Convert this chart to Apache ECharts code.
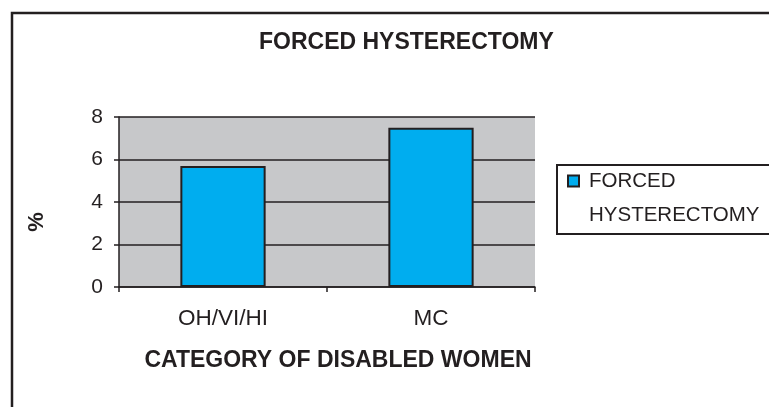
<!DOCTYPE html>
<html>
<head>
<meta charset="utf-8">
<script src="https://cdn.jsdelivr.net/npm/echarts@6/dist/echarts.min.js"></script>
<style>
  html, body { margin: 0; padding: 0; background: #fff; }
  #main { width: 769px; height: 407px; }
</style>
</head>
<body>
<div id="main"></div>
<script>
// data
var categories = ["OH/VI/HI", "MC"];
var values = [5.7, 7.5];
var seriesName = "FORCED HYSTERECTOMY";

var chart = echarts.init(document.getElementById("main"));
var font = "Liberation Sans, Arial, sans-serif";

var option = {
  animation: false,
  textStyle: { fontFamily: font },
  title: {
    text: "FORCED HYSTERECTOMY",
    left: 254,
    top: 26,
    textStyle: { fontFamily: font, fontSize: 23, fontWeight: "bold", color: "#231f20" }
  },
  legend: {
    data: [seriesName],
    left: 567,
    top: 130,
    padding: 0,
    icon: "rect",
    itemWidth: 11,
    itemHeight: 11,
    // empty first line keeps the icon beside "FORCED"
    formatter: function () { return " \nFORCED\nHYSTERECTOMY"; },
    textStyle: {
      fontFamily: font, fontSize: 20.5, color: "#231f20",
      lineHeight: 34, padding: [0, 0, 0, 5]
    }
  },
  grid: {
    left: 119, right: 234, top: 117, bottom: 120,
    show: true, backgroundColor: "#c7c8ca", borderWidth: 0
  },
  xAxis: {
    type: "category",
    data: categories,
    name: "CATEGORY OF DISABLED WOMEN",
    nameLocation: "middle",
    nameGap: 62,
    nameTextStyle: { fontFamily: font, fontSize: 23, fontWeight: "bold", color: "#231f20", padding: [0, 0, 0, 22] },
    axisLine: { lineStyle: { color: "#231f20", width: 1.5 } },
    axisTick: { show: true, alignWithLabel: false, length: 5, lineStyle: { color: "#231f20", width: 1.5 } },
    axisLabel: { fontSize: 22.5, color: "#231f20", margin: 20 }
  },
  yAxis: {
    type: "value",
    min: 0, max: 8, interval: 2,
    axisLine: { show: true, lineStyle: { color: "#231f20", width: 1.5 } },
    axisTick: { show: true, length: 5, lineStyle: { color: "#231f20", width: 1.5 } },
    axisLabel: { fontSize: 21, color: "#231f20", margin: 16 },
    splitLine: { lineStyle: { color: "#231f20", width: 1.5 } }
  },
  series: [{
    name: seriesName,
    type: "bar",
    data: values,
    barWidth: "41%",
    itemStyle: { color: "#00adef", borderColor: "#231f20", borderWidth: 2 }
  }],
  graphic: [
    {
      type: "rect",
      shape: { x: 12, y: 13, width: 800, height: 500 },
      style: { fill: "none", stroke: "#231f20", lineWidth: 2.5 },
      silent: true
    },
    {
      type: "rect",
      shape: { x: 557, y: 165, width: 300, height: 69 },
      style: { fill: "none", stroke: "#231f20", lineWidth: 2 },
      silent: true
    },
    {
      type: "text",
      x: 37, y: 222,
      rotation: Math.PI / 2,
      style: {
        text: "%", fontFamily: font, fontSize: 22, fontWeight: "bold",
        fill: "#231f20", align: "center", verticalAlign: "middle"
      }
    }
  ]
};

chart.setOption(option);
</script>
</body>
</html>
